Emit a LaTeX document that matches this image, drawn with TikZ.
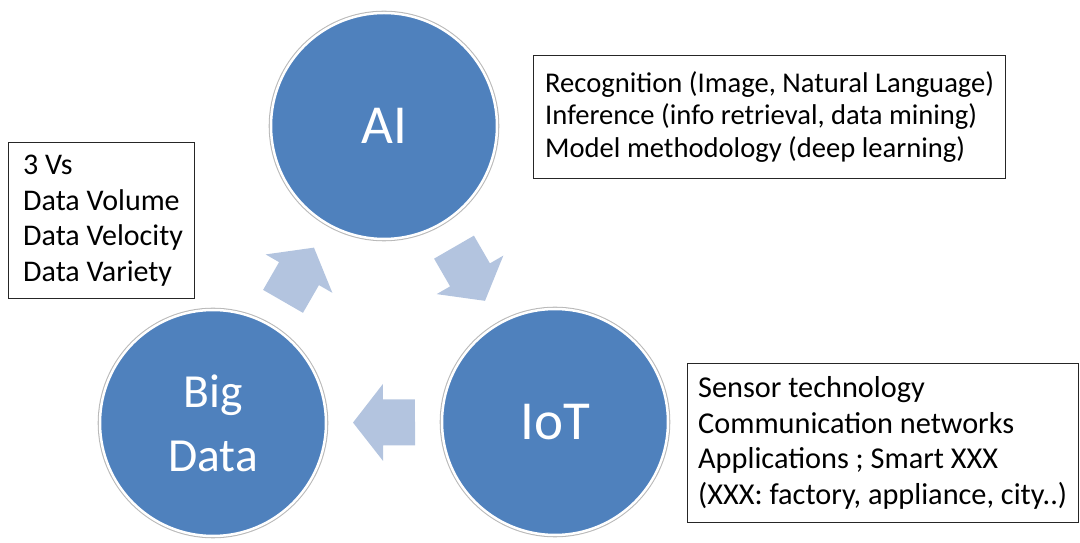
\documentclass[tikz,border=0pt]{standalone}
\usepackage{fontspec}
\setmainfont{Carlito}
\usetikzlibrary{calc}
\definecolor{hubblue}{RGB}{79,129,189}
\definecolor{flowfill}{RGB}{179,196,223}
\definecolor{ringgray}{RGB}{185,185,185}
\tikzset{
  hub/.style={circle, minimum size=226pt, inner sep=0pt, fill=hubblue,
    draw=white, line width=2.5pt,
    preaction={draw=ringgray, line width=4.6pt},
    text=white, align=center},
  notebox/.style={draw=black!85, line width=1pt, anchor=north west, inner sep=0pt},
  notetext/.style={anchor=west, align=left, inner sep=0pt},
}
% block arrow placed halfway between two nodes, pointing from #1 to #2
\newcommand\flowarrow[2]{%
  \path let \p1=($(#2)-(#1)$), \n1={atan2(\y1,\x1)} in \pgfextra{\xdef\flowangle{\n1}};
  \fill[flowfill, shift={($(#1)!0.5!(#2)$)}, rotate=\flowangle]
    (-31,-23) -- (1,-23) -- (1,-38.5) -- (31,0) -- (1,38.5) -- (1,23) -- (-31,23) -- cycle;}
\begin{document}
\begin{tikzpicture}[x=1pt, y=1pt]
\useasboundingbox (0,0) rectangle (1080,543);

% the three hubs
\node[hub, font=\fontsize{55}{60}\selectfont] (ai) at (384,417) {AI};
\node[hub, font=\fontsize{47.5}{64}\selectfont] (bd) at (213,120) {Big\\Data};
\node[hub, font=\fontsize{55}{60}\selectfont] (iot) at (555,121) {IoT};

% cycle arrows
\flowarrow{bd}{ai}
\flowarrow{ai}{iot}
\flowarrow{iot}{bd}

% notes
\node[notebox, minimum width=186pt, minimum height=156pt] (vbox) at (8,401) {};
\node[notetext, font=\fontsize{30}{35.5}\selectfont] (vtext) at ($(vbox.west)+(15,0)$)
  {3 Vs\\Data Volume\\Data Velocity\\Data Variety};

\node[notebox, minimum width=472pt, minimum height=123pt] (aibox) at (533,488) {};
\node[notetext, font=\fontsize{28.6}{32.5}\selectfont] (aitext) at ($(aibox.west)+(12,0)$)
  {Recognition (Image, Natural Language)\\Inference (info retrieval, data mining)\\Model methodology (deep learning)};

\node[notebox, minimum width=391pt, minimum height=159pt] (iotbox) at (687,180) {};
\node[notetext, font=\fontsize{30.3}{35.5}\selectfont] (iottext) at ($(iotbox.west)+(11,0)$)
  {Sensor technology\\Communication networks\\Applications ; Smart XXX\\(XXX: factory, appliance, city..)};
\end{tikzpicture}
\end{document}
